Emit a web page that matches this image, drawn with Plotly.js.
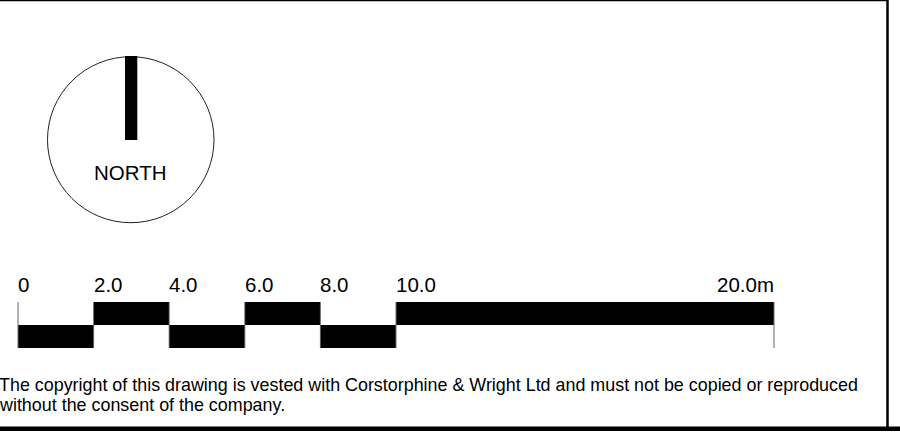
<!DOCTYPE html>
<html>
<head>
<meta charset="utf-8">
<script src="https://cdn.plot.ly/plotly-3.0.1.min.js"></script>
<style>
html,body{margin:0;padding:0;background:#fff;}
#chart{width:900px;height:446px;}
</style>
</head>
<body>
<div id="chart"></div>
<script>
// ---- data ----
const segStart = [0, 2, 4, 6, 8, 10];
const segEnd   = [2, 4, 6, 8, 10, 20];
const segRow   = ['lower', 'upper', 'lower', 'upper', 'lower', 'upper'];
const tickVals   = [0, 2, 4, 6, 8, 10, 20];
const tickLabels = ['0', '2.0', '4.0', '6.0', '8.0', '10.0', '20.0m'];
const northLabel = 'NORTH';
const copyrightLines = [
  'The copyright of this drawing is vested with Corstorphine & Wright Ltd and must not be copied or reproduced',
  'without the consent of the company.'
];

// ---- layout helpers (pixel geometry) ----
const W = 900, H = 446;
const pxPerM = 37.8, x0px = 18;
const xr = [-x0px / pxPerM, (W - x0px) / pxPerM];
const px = v => v / W;            // paper x from pixels
const FONT = 'Liberation Sans, Arial, sans-serif';

const upperTop = 302, rowH = 23;

const mids = segStart.map((s, i) => (s + segEnd[i]) / 2);
const widths = segStart.map((s, i) => segEnd[i] - s);
const bases = segRow.map(r => r === 'upper' ? upperTop : upperTop + rowH);

const traces = [{
  type: 'bar',
  x: mids,
  y: widths.map(() => rowH),
  base: bases,
  width: widths,
  marker: {color: '#000', line: {width: 0}},
  hoverinfo: 'skip',
  showlegend: false
}];

const shapes = [];
// thin division lines
tickVals.forEach(t => shapes.push({
  type: 'line', xref: 'x', yref: 'y', x0: t, x1: t, y0: upperTop, y1: upperTop + 2 * rowH,
  line: {color: '#666', width: 1}
}));
// drawing frame
shapes.push({type: 'line', xref: 'paper', yref: 'y', x0: 0, x1: px(888), y0: 0.5, y1: 0.5, line: {color: '#000', width: 1.5}});
shapes.push({type: 'line', xref: 'paper', yref: 'y', x0: px(887.5), x1: px(887.5), y0: 0, y1: 428, line: {color: '#000', width: 2.5}});
shapes.push({type: 'rect', xref: 'paper', yref: 'y', x0: 0, x1: 1, y0: 426.5, y1: 431, fillcolor: '#000', line: {width: 0}});
// north symbol
shapes.push({type: 'circle', xref: 'paper', yref: 'y', x0: px(47.5), x1: px(214), y0: 56.7, y1: 222.7, line: {color: '#222', width: 1}});
shapes.push({type: 'rect', xref: 'paper', yref: 'y', x0: px(125), x1: px(137.3), y0: 56, y1: 140, fillcolor: '#000', line: {width: 0}});

const annotations = [];
tickVals.forEach((t, i) => annotations.push({
  xref: 'x', yref: 'y', x: t, y: 284.5,
  text: tickLabels[i], showarrow: false,
  xanchor: i === tickVals.length - 1 ? 'right' : 'left', yanchor: 'middle',
  xshift: i === tickVals.length - 1 ? 2 : -2,
  font: {family: FONT, size: 20.5, color: '#000'}
}));
annotations.push({
  xref: 'paper', yref: 'y', x: px(130.8), y: 172.5, text: northLabel, showarrow: false,
  xanchor: 'center', yanchor: 'middle', font: {family: FONT, size: 20.5, color: '#000'}
});
copyrightLines.forEach((line, i) => annotations.push({
  xref: 'paper', yref: 'y', x: px(-3), y: 384.5 + i * 20, text: line, showarrow: false,
  xanchor: 'left', yanchor: 'middle', font: {family: FONT, size: 17.9, color: '#000'}
}));

const layout = {
  width: W, height: H,
  margin: {l: 0, r: 0, t: 0, b: 0, pad: 0},
  paper_bgcolor: '#fff', plot_bgcolor: '#fff',
  xaxis: {range: xr, visible: false, fixedrange: true},
  yaxis: {range: [H, 0], visible: false, fixedrange: true},
  bargap: 0,
  shapes: shapes,
  annotations: annotations,
  showlegend: false
};

Plotly.newPlot('chart', traces, layout, {staticPlot: true, displayModeBar: false});
</script>
</body>
</html>
